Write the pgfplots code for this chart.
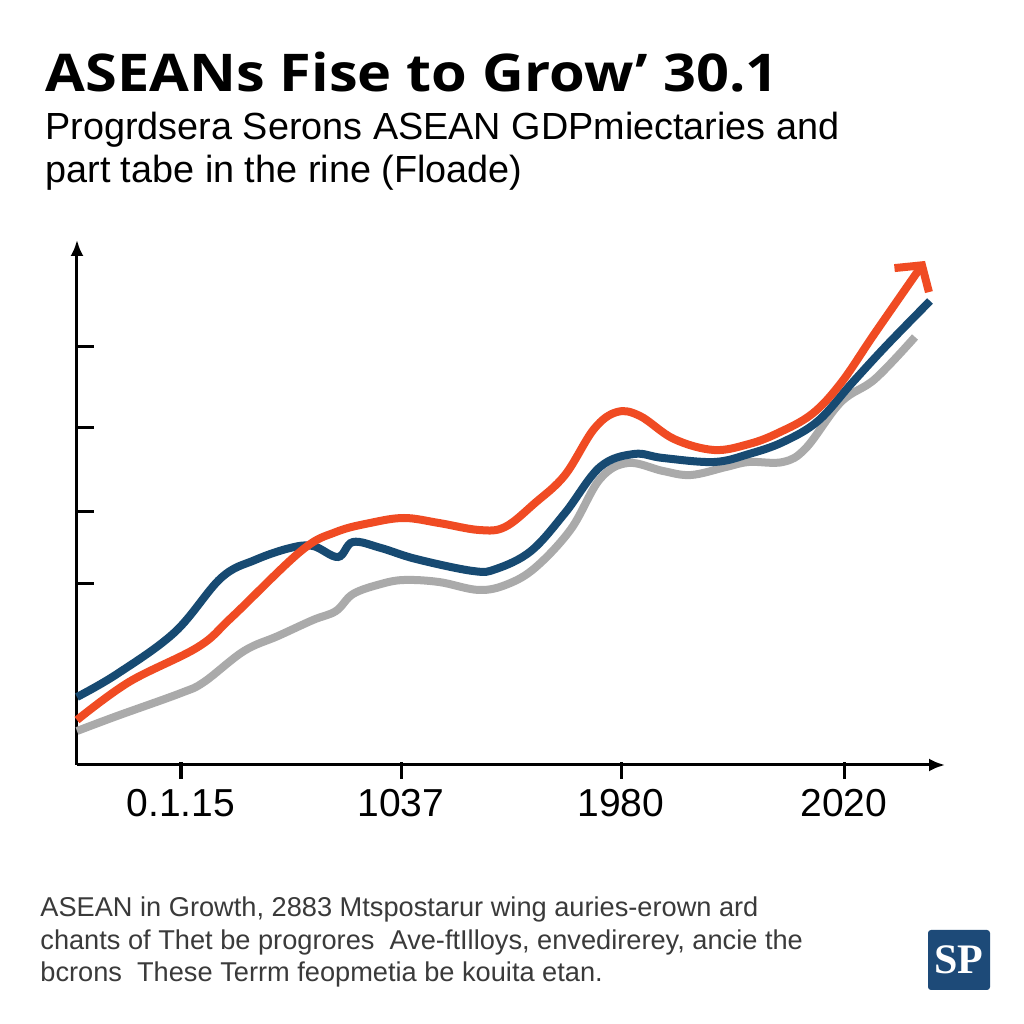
\documentclass[border=0pt]{standalone}
\usepackage{fontspec}
\setmainfont{Liberation Sans}
\newfontfamily\titlefont{Open Sans}[FakeStretch=1.11]
\usepackage{pgfplots}
\pgfplotsset{compat=1.18}
\usetikzlibrary{arrows.meta}
\definecolor{navy}{HTML}{174A72}
\definecolor{redor}{HTML}{F04B23}
\definecolor{grayl}{HTML}{AAAAAA}
\definecolor{logob}{HTML}{1D4A78}
\definecolor{foot}{HTML}{3A3A3A}
\begin{document}
\begin{tikzpicture}
\fill[white] (0,0) rectangle (512pt,512pt);
% title
\node[anchor=base west, inner sep=0pt] at (22.5pt,466pt) {\titlefont\bfseries\fontsize{26pt}{30pt}\selectfont ASEANs Fise to Grow’ 30.1};
\node[anchor=base west, inner sep=0pt] at (22.5pt,442pt) {\fontsize{18.9pt}{22pt}\selectfont Progrdsera Serons ASEAN GDPmiectaries and};
\node[anchor=base west, inner sep=0pt] at (22.5pt,420.5pt) {\fontsize{18.9pt}{22pt}\selectfont part tabe in the rine (Floade)};
% footer
\node[anchor=base west, inner sep=0pt, text=foot] at (20pt,53.5pt) {\fontsize{13.6pt}{16pt}\selectfont ASEAN in Growth, 2883 Mtspostarur wing auries-erown ard};
\node[anchor=base west, inner sep=0pt, text=foot] at (20pt,37pt) {\fontsize{13.6pt}{16pt}\selectfont chants of Thet be progrores\ \ Ave-ftIlloys, envedirerey, ancie the};
\node[anchor=base west, inner sep=0pt, text=foot] at (20pt,21pt) {\fontsize{13.6pt}{16pt}\selectfont bcrons\ \ These Terrm feopmetia be kouita etan.};
% logo
\fill[logob, rounded corners=1.5pt] (464pt,17pt) rectangle (495pt,47pt);
\node[text=white, inner sep=0pt] at (479.5pt,32pt) {\setmainfont{Liberation Serif}\bfseries\fontsize{21pt}{24pt}\selectfont SP};
\begin{axis}[
  at={(38.5pt,129.5pt)}, anchor=south west,
  scale only axis, width=434pt, height=262.5pt,
  xmin=77, xmax=945, ymin=0, ymax=525,
  axis lines=left,
  axis line style={line width=1.5pt, -{Latex[length=8pt,width=6.5pt]}},
  tick align=inside,
  major tick length=8.5pt,
  tick style={line width=1.5pt, black},
  xtick={181,401,621,844},
  xticklabels={0.1.15,1037,1980,2020},
  xtick style={yshift=-7pt},
  x tick label style={font=\fontsize{19.5pt}{22pt}\selectfont, anchor=base, yshift=-26pt},
  ytick={181,253,337,418},
  yticklabels={},
  clip=false,
]
\addplot[grayl, line width=4pt, smooth, tension=0.6] coordinates {
(77,34) (117,49) (181,72) (204,83) (244,114) (278,129) (313,145) (336,154) (353,171) (381,181) (404,185) (439,183) (479,175) (508,181) (536,198) (571,236) (600,286) (628,302) (663,294) (691,290) (726,298) (749,303) (783,303) (806,317) (841,363) (875,386) (915,428)};
\addplot[navy, line width=4pt, smooth, tension=0.6] coordinates {
(77,68) (117,91) (175,133) (221,187) (255,205) (290,217) (313,219) (338,208) (353,223) (381,217) (416,206) (473,194) (496,196) (531,214) (565,252) (600,298) (634,311) (663,307) (714,303) (749,311) (783,323) (818,344) (852,382) (887,420) (930,464)};
\addplot[redor, line width=4pt, smooth, tension=0.6, -{Straight Barb[length=9pt,width=21pt]}] coordinates {
(77,45) (129,83) (198,118) (232,148) (301,214) (336,233) (370,242) (404,247) (439,242) (479,235) (505,238) (535,262) (565,290) (594,336) (617,353) (640,349) (674,326) (714,315) (749,321) (778,332) (812,351) (841,382) (875,432) (925,504)};
\end{axis}
\end{tikzpicture}
\end{document}
